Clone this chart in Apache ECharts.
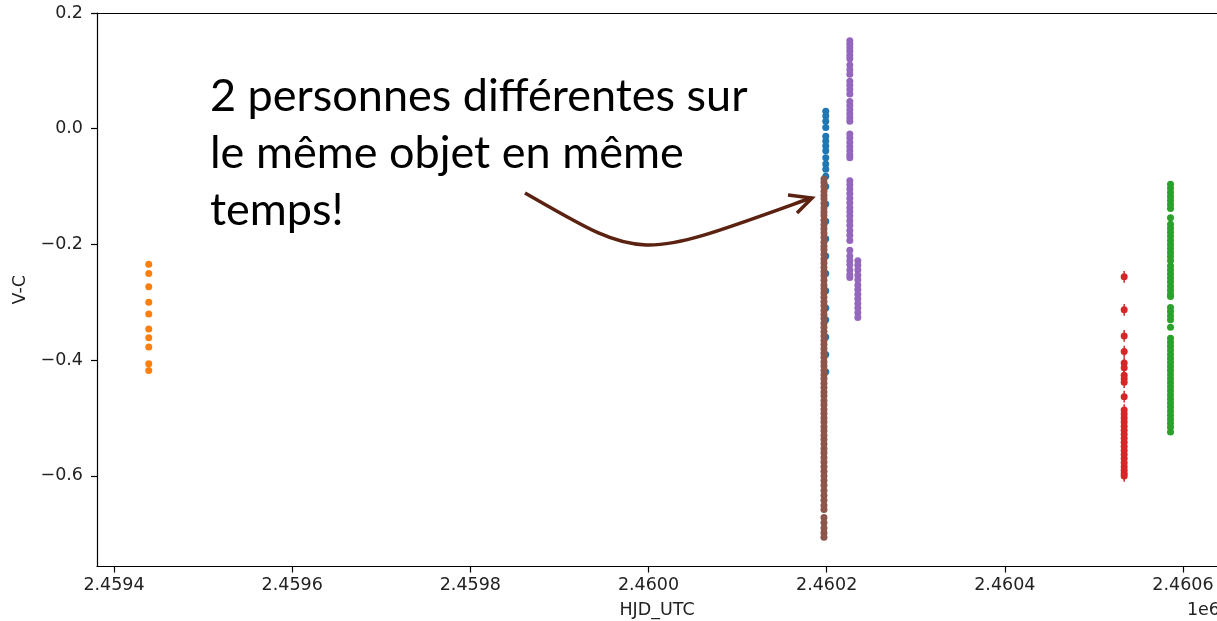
<!DOCTYPE html>
<html>
<head>
<meta charset="utf-8">
<title>V-C vs HJD_UTC</title>
<script src="https://cdn.jsdelivr.net/npm/echarts@6/dist/echarts.min.js"></script>
<style>
  html, body { margin: 0; padding: 0; background: #fff; }
  #chart { width: 1217px; height: 621px; }
</style>
</head>
<body>
<div id="chart"></div>
<script>
// x positions (HJD) of each observing run
var blueX = 2460199;
var orangeX = 2459439;
var greenX = 2460586;
var redX = 2460534;
var purpleXA = 2460226;
var purpleXB = 2460235;
var brownX = 2460197;

// V-C values
var blueY = [0.03, 0.022, 0.013, 0.002, -0.013, -0.021, -0.03, -0.038, -0.05, -0.061, -0.07, -0.082,
  -0.1, -0.13, -0.16, -0.19, -0.22, -0.25, -0.28, -0.31, -0.33, -0.36, -0.39, -0.42];
var orangeY = [-0.234, -0.25, -0.273, -0.3, -0.32, -0.346, -0.361, -0.377, -0.406, -0.418];
var greenY = [-0.096, -0.103, -0.11, -0.117, -0.124, -0.131, -0.138, -0.154, -0.165, -0.172, -0.179,
  -0.186, -0.193, -0.2, -0.207, -0.214, -0.221, -0.228, -0.237, -0.244, -0.251, -0.258, -0.265,
  -0.272, -0.279, -0.286, -0.29, -0.309, -0.316, -0.323, -0.33, -0.343, -0.362, -0.369, -0.376,
  -0.383, -0.39, -0.397, -0.404, -0.411, -0.418, -0.425, -0.432, -0.439, -0.446, -0.453, -0.46,
  -0.467, -0.474, -0.481, -0.488, -0.495, -0.502, -0.509, -0.516, -0.524];
var redY = [-0.256, -0.313, -0.358, -0.385, -0.405, -0.413, -0.426, -0.432, -0.438, -0.463,
  -0.486, -0.493, -0.5, -0.507, -0.514, -0.521, -0.528, -0.535, -0.542, -0.549, -0.556, -0.563,
  -0.57, -0.577, -0.584, -0.59, -0.596, -0.6];
var redErr = 0.01;
var purpleYA = [0.152, 0.146, 0.14, 0.134, 0.127, 0.121, 0.11, 0.102, 0.094, 0.082, 0.075, 0.068,
  0.06, 0.047, 0.04, 0.033, 0.026, 0.019, 0.013, -0.009, -0.016, -0.024, -0.031, -0.038, -0.045,
  -0.05, -0.09, -0.097, -0.104, -0.112, -0.12, -0.128, -0.136, -0.143, -0.151, -0.159, -0.167,
  -0.176, -0.184, -0.193, -0.21, -0.22, -0.228, -0.235, -0.244, -0.252, -0.257];
var purpleYB = [-0.228, -0.236, -0.244, -0.253, -0.261, -0.27, -0.278, -0.286, -0.294, -0.302,
  -0.31, -0.318, -0.326];
var brownY = [-0.087, -0.093, -0.1, -0.108, -0.115, -0.121, -0.129, -0.137, -0.144, -0.15, -0.158,
  -0.166, -0.173, -0.18, -0.188, -0.196, -0.203, -0.209, -0.217, -0.225, -0.232, -0.24, -0.247,
  -0.254, -0.262, -0.27, -0.277, -0.284, -0.291, -0.299, -0.306, -0.314, -0.321, -0.328, -0.336,
  -0.343, -0.351, -0.358, -0.366, -0.373, -0.38, -0.388, -0.395, -0.403, -0.41, -0.418, -0.425,
  -0.432, -0.44, -0.447, -0.455, -0.462, -0.47, -0.477, -0.485, -0.492, -0.5, -0.507, -0.515,
  -0.522, -0.53, -0.537, -0.545, -0.553, -0.56, -0.568, -0.576, -0.584, -0.592, -0.6, -0.608,
  -0.616, -0.625, -0.634, -0.642, -0.651, -0.658, -0.672, -0.681, -0.69, -0.698, -0.706];

// axes
var xTicks = [2459400, 2459600, 2459800, 2460000, 2460200, 2460400, 2460600];
var yTicks = [-0.6, -0.4, -0.2, 0, 0.2];
var xMin = 2459380.9, xMax = 2460638.2;
var yMin = -0.7565, yMax = 0.2;

var annotation = ['2 personnes différentes sur', 'le même objet en même', 'temps!'];

function pts(x, ys) {
  return ys.map(function (y) { return [x, y]; });
}

var tickFont = { fontFamily: 'DejaVu Sans', fontSize: 17.5, color: '#222' };
var spine = { onZero: false, lineStyle: { color: '#000', width: 1.2 } };
var dot = 7;

function dots(data, color) {
  return { type: 'scatter', data: data, symbolSize: dot, itemStyle: { color: color, opacity: 1 } };
}

var chart = echarts.init(document.getElementById('chart'));
chart.setOption({
  animation: false,
  backgroundColor: '#fff',
  grid: { left: 97, right: 0, top: 13, bottom: 54.5, outerBoundsMode: 'none' },
  xAxis: [
    {
      type: 'value', position: 'bottom', min: xMin, max: xMax,
      splitLine: { show: false },
      axisLine: spine,
      axisTick: { customValues: xTicks, length: 6, lineStyle: { color: '#000', width: 1.2 } },
      axisLabel: Object.assign({
        customValues: xTicks, margin: 10,
        formatter: function (v) { return (v / 1e6).toFixed(4); }
      }, tickFont),
      name: 'HJD_UTC', nameLocation: 'middle', nameGap: 35,
      nameTextStyle: tickFont
    },
    {
      type: 'value', position: 'top', min: xMin, max: xMax,
      splitLine: { show: false }, axisTick: { show: false }, axisLabel: { show: false },
      axisLine: spine
    }
  ],
  yAxis: {
    type: 'value', min: yMin, max: yMax,
    splitLine: { show: false },
    axisLine: { show: true, onZero: false, lineStyle: { color: '#000', width: 1.2 } },
    axisTick: { customValues: yTicks, length: 6, lineStyle: { color: '#000', width: 1.2 } },
    axisLabel: Object.assign({
      customValues: yTicks, margin: 14,
      formatter: function (v) { return v.toFixed(1).replace('-', '\u2212'); }
    }, tickFont),
    name: 'V-C', nameLocation: 'middle', nameGap: 65,
    nameTextStyle: tickFont
  },
  series: [
    dots(pts(blueX, blueY), '#1f77b4'),
    dots(pts(orangeX, orangeY), '#ff7f0e'),
    dots(pts(greenX, greenY), '#2ca02c'),
    {
      type: 'custom', data: pts(redX, redY),
      renderItem: function (params, api) {
        var top = api.coord([api.value(0), api.value(1) + redErr]);
        var bot = api.coord([api.value(0), api.value(1) - redErr]);
        return {
          type: 'line',
          shape: { x1: top[0], y1: top[1], x2: bot[0], y2: bot[1] },
          style: { stroke: '#d62728', lineWidth: 1.5 }
        };
      }
    },
    dots(pts(redX, redY), '#d62728'),
    dots(pts(purpleXA, purpleYA).concat(pts(purpleXB, purpleYB)), '#9467bd'),
    dots(pts(brownX, brownY), '#8c564b')
  ],
  graphic: [
    {
      type: 'text', left: 210, top: 68, z: 100,
      style: {
        text: annotation.join('\n'), fill: '#000',
        font: '45px Lato', lineHeight: 57
      }
    },
    {
      type: 'bezierCurve', z: 100,
      shape: { x1: 525, y1: 193, cpx1: 645, cpy1: 262, cpx2: 636, cpy2: 261, x2: 811, y2: 198 },
      style: { stroke: '#5b2111', lineWidth: 3.5, fill: null }
    },
    {
      type: 'polyline', z: 100,
      shape: { points: [[788, 195], [812, 198], [797, 213]] },
      style: { stroke: '#5b2111', lineWidth: 3.5, fill: null, lineJoin: 'miter' }
    },
    {
      type: 'text', right: -3, top: 601, z: 100,
      style: { text: '1e6', fill: '#222', font: '17.5px "DejaVu Sans"' }
    }
  ]
});
</script>
</body>
</html>
